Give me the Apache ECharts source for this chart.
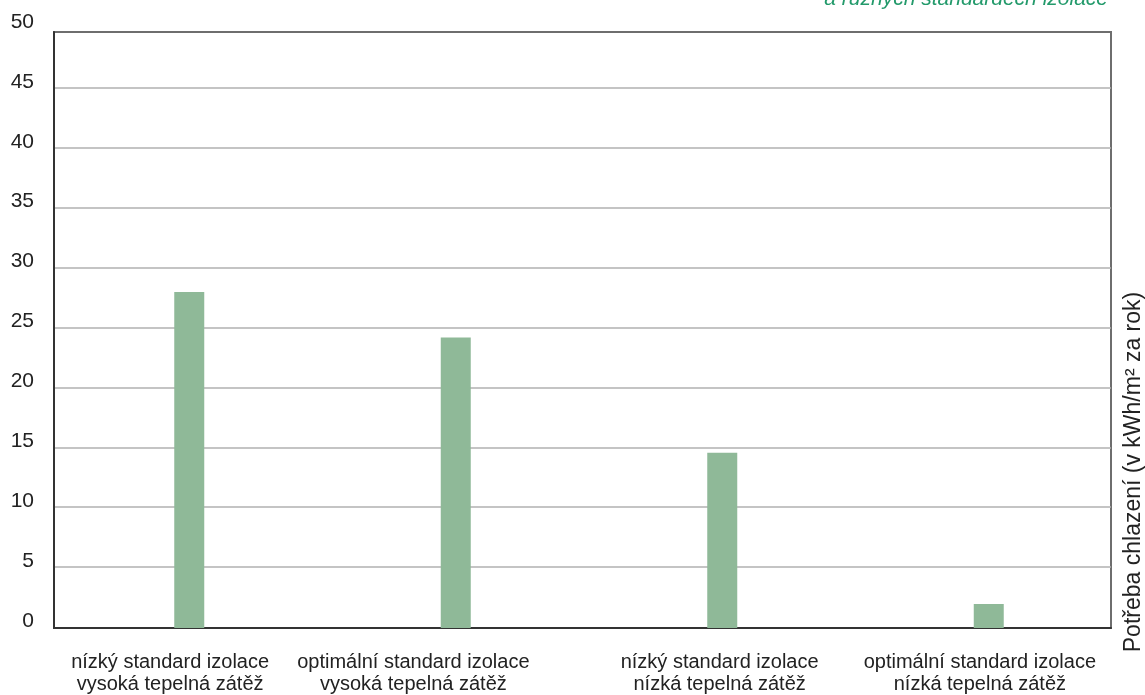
<!DOCTYPE html>
<html>
<head>
<meta charset="utf-8">
<script src="https://cdn.jsdelivr.net/npm/echarts@6/dist/echarts.min.js"></script>
<style>
html,body{margin:0;padding:0;background:#fff;}
#chart{width:1145px;height:695px;}
</style>
</head>
<body>
<div id="chart"></div>
<script>
const categories = [
  "nízký standard izolace\nvysoká tepelná zátěž",
  "optimální standard izolace\nvysoká tepelná zátěž",
  "nízký standard izolace\nnízká tepelná zátěž",
  "optimální standard izolace\nnízká tepelná zátěž"
];
const values = [28.0, 24.2, 14.6, 2.0];
const yMin = 0, yMax = 50, yStep = 5;
const titleText = "a různých standardech izolace";
const yAxisName = "Potřeba chlazení (v kWh/m² za rok)";
const labelShift = [-16, -37, 5, 1];

const FONT = "Liberation Sans, Arial, sans-serif";
const chart = echarts.init(document.getElementById('chart'), null, {renderer: 'canvas'});

const catData = categories.map((c, i) => ({
  value: c,
  textStyle: {
    padding: labelShift[i] < 0 ? [0, -2 * labelShift[i], 0, 0] : [0, 0, 0, 2 * labelShift[i]]
  }
}));

chart.setOption({
  animation: false,
  backgroundColor: '#ffffff',
  grid: [
    {left: 54, right: 34, top: 32, bottom: 67, show: true, borderColor: '#6e6e6e', borderWidth: 2, backgroundColor: 'transparent'},
    {left: 54, right: 34, top: 28, bottom: 67},
    {left: 56, right: 23, top: 28, bottom: 67}
  ],
  xAxis: [
    {gridIndex: 0, type: 'category', data: categories, axisLine: {show: true, lineStyle: {color: '#333', width: 2}}, axisTick: {show: false}, axisLabel: {show: false}, splitLine: {show: false}},
    {gridIndex: 1, type: 'category', data: catData, axisLine: {show: false}, axisTick: {show: false},
     axisLabel: {show: true, interval: 0, margin: 24, color: '#222', fontFamily: FONT, fontSize: 20, lineHeight: 22}},
    {gridIndex: 2, type: 'category', data: categories, show: false}
  ],
  yAxis: [
    {gridIndex: 0, type: 'value', min: yMin, max: yMax, axisLine: {show: true, lineStyle: {color: '#333', width: 2}}, axisLabel: {show: false}, axisTick: {show: false}, splitLine: {show: false}},
    {gridIndex: 1, type: 'value', min: yMin, max: yMax, interval: yStep,
     axisLine: {show: false}, axisTick: {show: false},
     axisLabel: {show: true, margin: 20, color: '#222', fontFamily: FONT, fontSize: 21, lineHeight: 12, verticalAlign: 'bottom'},
     splitLine: {show: true, showMinLine: false, showMaxLine: false, lineStyle: {color: '#b0b0b0', width: 1.5}}},
    {gridIndex: 2, type: 'value', min: yMin, max: yMax, show: false, splitLine: {show: false}}
  ],
  series: [{
    type: 'bar',
    xAxisIndex: 2, yAxisIndex: 2,
    data: values,
    barWidth: 30,
    itemStyle: {color: '#8fb998'},
    z: 1
  }],
  graphic: [
    {type: 'text', z: 10, style: {text: titleText, x: 1108, y: 10, align: 'right', verticalAlign: 'bottom', fill: '#239a6b', font: 'italic 21px ' + FONT}},
    {type: 'text', z: 10, x: 1134, y: 472, rotation: Math.PI / 2, style: {text: yAxisName, x: 0, y: 0, align: 'center', verticalAlign: 'middle', fill: '#222', font: '23px ' + FONT}}
  ]
});
</script>
</body>
</html>
